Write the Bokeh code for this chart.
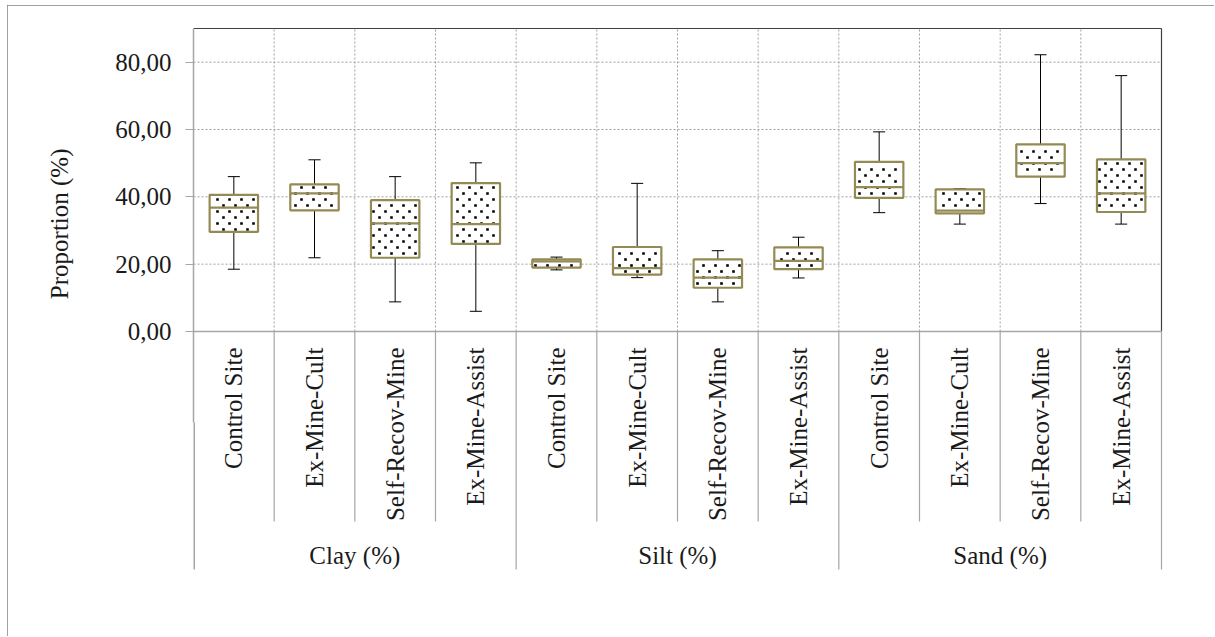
import math
from bokeh.plotting import figure
from bokeh.models import Range1d, FixedTicker, ColumnDataSource, Title
from bokeh.core.properties import value
from bokeh.embed import file_html
from bokeh.resources import INLINE

# ---------------- data ----------------
groups = ["Clay (%)", "Silt (%)", "Sand (%)"]
sites = ["Control Site", "Ex-Mine-Cult", "Self-Recov-Mine", "Ex-Mine-Assist"]
whisker_low = [18.5, 21.9, 8.8, 6.0,   18.3, 16.0, 8.8, 15.9,   35.3, 31.9, 38.0, 31.9]
q1          = [29.6, 36.0, 21.9, 26.0, 19.0, 16.9, 13.0, 18.5,  39.7, 35.1, 46.0, 35.5]
median      = [36.8, 41.0, 32.1, 31.9, 20.8, 18.8, 16.0, 21.0,  42.9, 35.9, 50.0, 41.0]
q3          = [40.6, 43.7, 39.0, 44.1, 21.4, 25.1, 21.4, 25.0,  50.4, 42.2, 55.6, 51.1]
whisker_high= [46.0, 51.0, 46.0, 50.1, 22.1, 44.0, 24.0, 28.0,  59.3, 42.4, 82.2, 76.0]
y_ticks = [0, 20, 40, 60, 80]
y_tick_labels = ["0,00", "20,00", "40,00", "60,00", "80,00"]
y_title = "Proportion (%)"
y_max = 90

# ---------------- layout ----------------
FONT = "Liberation Serif"
FS = "25px"
N = len(groups) * len(sites)
FW, FH = 971, 545
PXX = 968 / N              # px per category
PX = 303 / y_max           # px per y unit
x_end = N + 3 / PXX
y_start = -240 / PX
y_end = y_max + 2 / PX

p = figure(frame_width=FW, frame_height=FH,
           x_range=Range1d(0, x_end), y_range=Range1d(y_start, y_end),
           output_backend="svg", toolbar_location=None,
           x_axis_location=None,
           min_border_left=186, min_border_right=50,
           min_border_top=21, min_border_bottom=65)
p.margin = (5, 0, 0, 7)
p.styles = {"outline": "1px solid #808080", "outline-offset": "-1px"}
p.grid.visible = False
p.outline_line_color = None
p.background_fill_color = "white"
p.border_fill_color = "white"

ya = p.yaxis[0]
ya.ticker = FixedTicker(ticks=y_ticks)
ya.bounds = (-27, y_max)
ya.major_label_overrides = {t: l for t, l in zip(y_ticks, y_tick_labels)}
ya.major_label_text_font = FONT
ya.major_label_text_font_size = FS
ya.major_label_text_color = "#1a1a1a"
ya.major_label_standoff = 14
ya.axis_line_color = "#a6a6a6"
ya.axis_line_width = 1.5
ya.major_tick_line_color = "#a6a6a6"
ya.major_tick_in = 0
ya.major_tick_out = 8
ya.minor_tick_line_color = None

# y axis title, placed as a side title so it can sit high like the original
yt = Title(text=y_title, align="right", vertical_align="top", offset=122, standoff=76,
           text_font=FONT, text_font_style="normal", text_font_size=FS,
           text_color="#1a1a1a")
p.add_layout(yt, "left")

grid_col = "#a0a0a0"
hg = [t for t in y_ticks if t > 0]
p.segment(x0=[0] * len(hg), x1=[N] * len(hg), y0=hg, y1=hg,
          line_color=grid_col, line_dash="2 2", line_width=1)
vg = list(range(1, N))
p.segment(x0=vg, x1=vg, y0=[0] * len(vg), y1=[y_max] * len(vg),
          line_color=grid_col, line_dash="2 2", line_width=1)

# plot area border (top, right)
p.segment(x0=[0, N], x1=[N, N], y0=[y_max, 0], y1=[y_max, y_max],
          line_color="#404040", line_width=1.2)

# category axis line
p.segment(x0=[0], x1=[N], y0=[0], y1=[0], line_color="#a6a6a6", line_width=1.5)

# separators
ns = len(sites)
short = [k for k in range(1, N) if k % ns != 0]
long_ = [k for k in range(1, N + 1) if k % ns == 0]
p.segment(x0=short, x1=short, y0=[0] * len(short), y1=[-190 / PX] * len(short),
          line_color="#a6a6a6", line_width=1.2)
p.segment(x0=long_, x1=long_, y0=[0] * len(long_), y1=[-238 / PX] * len(long_),
          line_color="#a6a6a6", line_width=1.2)
p.segment(x0=[0], x1=[0], y0=[-27], y1=[-238 / PX], line_color="#a6a6a6", line_width=3)

# boxes
centers = [i + 0.5 for i in range(N)]
bw = 0.3
cw = 0.075
src = ColumnDataSource(dict(x=centers, lo=whisker_low, q1=q1, med=median, q3=q3, hi=whisker_high,
                            l=[c - bw for c in centers], r=[c + bw for c in centers],
                            cl=[c - cw for c in centers], cr=[c + cw for c in centers]))
p.segment(x0="x", x1="x", y0="q3", y1="hi", source=src, line_color="black", line_width=1)
p.segment(x0="x", x1="x", y0="lo", y1="q1", source=src, line_color="black", line_width=1)
p.segment(x0="cl", x1="cr", y0="hi", y1="hi", source=src, line_color="black", line_width=1)
p.segment(x0="cl", x1="cr", y0="lo", y1="lo", source=src, line_color="black", line_width=1)
p.quad(left="l", right="r", bottom="q1", top="q3", source=src,
       fill_color="white", line_color=None)

# dotted fill texture (staggered lattice in pixel space, like the 10% pattern)
dx, dy = [], []
for i in range(N):
    xl, xr = (centers[i] - bw) * PXX, (centers[i] + bw) * PXX
    yb, ytp = q1[i] * PX, q3[i] * PX
    row = int(math.ceil((yb + 2) / 6.0))
    while row * 6.0 <= ytp - 2:
        off = 6.0 if row % 2 else 0.0
        col = int(math.ceil((xl + 2 - off) / 12.0))
        while col * 12.0 + off <= xr - 2:
            dx.append((col * 12.0 + off) / PXX)
            dy.append(row * 6.0 / PX)
            col += 1
        row += 1
p.scatter(x=dx, y=dy, marker="square", size=2.6, fill_color="black", line_color=None)

p.quad(left="l", right="r", bottom="q1", top="q3", source=src,
       fill_color=None, line_color="#948a54", line_width=2.2)
p.segment(x0="l", x1="r", y0="med", y1="med", source=src, line_color="#948a54", line_width=2.2)

# category labels
cat_labels = [s for g in groups for s in sites]
p.text(x=centers, y=[0] * N, text=cat_labels, angle=math.pi / 2,
       text_align="right", text_baseline="middle", y_offset=16,
       text_font=value(FONT), text_font_size=FS, text_color="#1a1a1a")
# group labels
gc = [ns * g + ns / 2 for g in range(len(groups))]
p.text(x=gc, y=[0] * len(groups), text=groups, text_align="center", text_baseline="middle",
       y_offset=224, text_font=value(FONT), text_font_size=FS, text_color="#1a1a1a")

open("out.html", "w").write(file_html(p, INLINE))
